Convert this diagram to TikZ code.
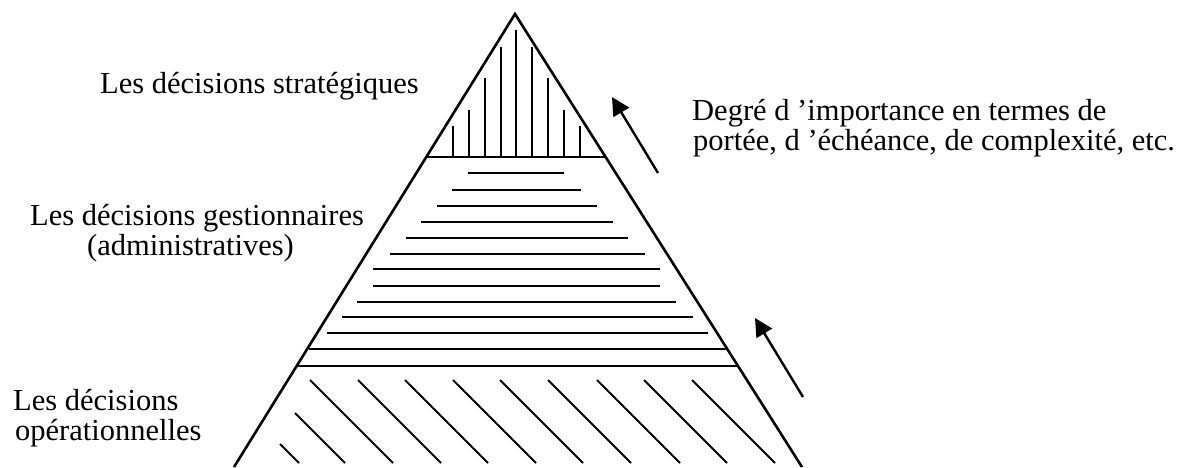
\documentclass[tikz,border=0pt]{standalone}
\usepackage{fontspec}
\setmainfont{Liberation Serif}
\usetikzlibrary{arrows.meta,calc}
\begin{document}
\begin{tikzpicture}[x=1pt,y=-1pt,
  lbl/.style={font=\fontsize{30.5}{30}\selectfont, inner sep=0pt, anchor=base west},
  outline/.style={line width=2.6pt, line join=miter},
  divider/.style={line width=2.6pt},
  hatch/.style={line width=2pt},
  arr/.style={line width=2.4pt, -{Triangle[length=18pt,width=18pt]}}]
\useasboundingbox (0,0) rectangle (1195,467);
% pyramid
\coordinate (apex) at (515,14);
\coordinate (bl) at (234,467);
\coordinate (br) at (802,467);
\coordinate (d1l) at ($(apex)!0.3157!(bl)$);
\coordinate (d1r) at ($(apex)!0.3157!(br)$);
\coordinate (d2l) at ($(apex)!0.7770!(bl)$);
\coordinate (d2r) at ($(apex)!0.7770!(br)$);
\draw[outline] (bl) -- (apex) -- (br);
\draw[divider] (d1l) -- (d1r);
\draw[divider] (d2l) -- (d2r);
% vertical hatching (strategic)
\foreach \x/\t in {453/126,469/110,485/78,501/47,516/30,532/47,548/78,564/110,580/126}
  \draw[hatch] (\x,\t) -- (\x,157);
% horizontal hatching (administrative)
\foreach \y/\l/\r in {173/468/564,190/452/581,206/437/597,222/421/613,238/406/628,254/390/645,269/373/660,286/373/660,302/357/676,317/342/693,333/327/708,349/309/726}
  \draw[hatch] (\l,\y) -- (\r,\y);
% diagonal hatching (operational)
\draw[hatch] (280,444) -- (299,463);
\draw[hatch] (295,413) -- (345,463);
\foreach \x in {310,358,405,453,500,548,597,644,692}
  \draw[hatch] (\x,380) -- ++(83,83);
% arrows
\coordinate (a1s) at (658,173);
\coordinate (a1e) at (612,97);
\coordinate (a2s) at (803,397);
\coordinate (a2e) at (755,318);
\draw[arr] (a1s) -- (a1e);
\draw[arr] (a2s) -- (a2e);
% labels
\node[lbl] (strat) at (100,93) {Les décisions stratégiques};
\node[lbl] (gest1) at (30,225) {Les décisions gestionnaires};
\node[lbl] (gest2) at (87,255) {(administratives)};
\node[lbl] (op1) at (13,410) {Les décisions};
\node[lbl] (op2) at (15,440) {opérationnelles};
\node[lbl] (deg1) at (692,120) {Degré d ’importance en termes de};
\node[lbl] (deg2) at (693,150) {portée, d ’échéance, de complexité, etc.};
\end{tikzpicture}
\end{document}
